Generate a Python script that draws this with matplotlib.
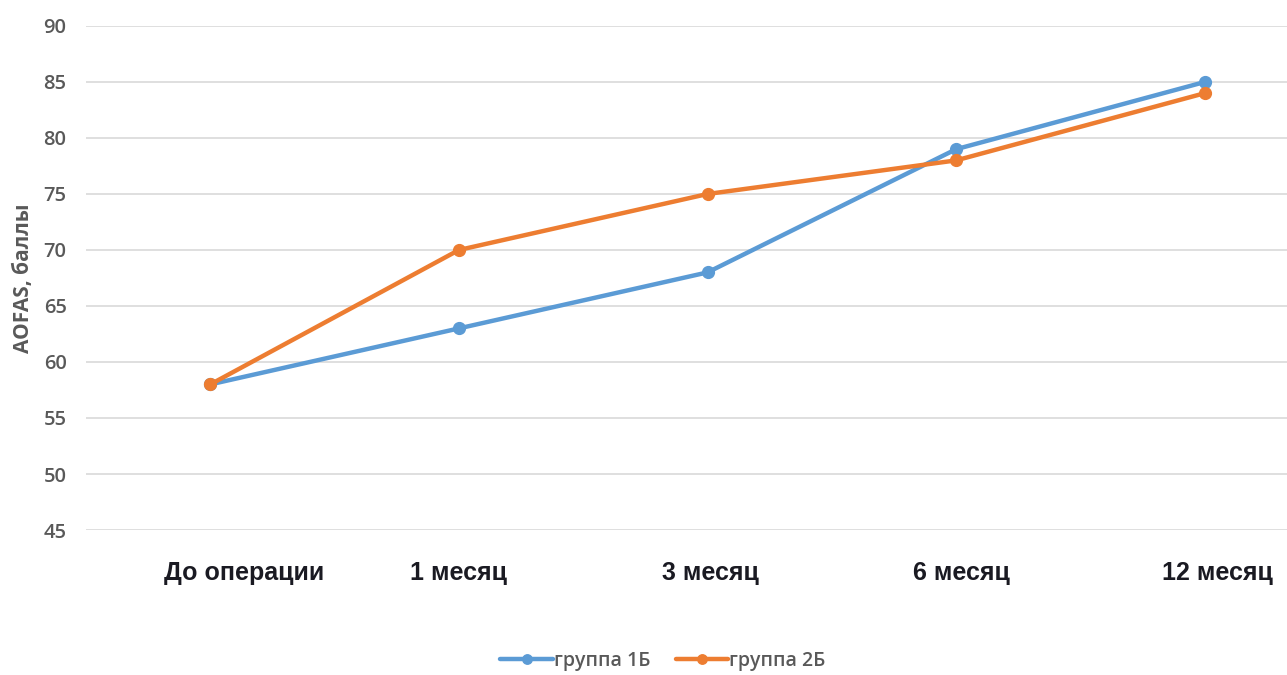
import matplotlib.pyplot as plt
from matplotlib.transforms import ScaledTranslation

# Category labels and AOFAS scores for the two groups
periods = ["До операции", "1 месяц", "3 месяц", "6 месяц", "12 месяц"]
group_1b = [58, 63, 68, 79, 85]
group_2b = [58, 70, 75, 78, 84]
y_ticks = [45, 50, 55, 60, 65, 70, 75, 80, 85, 90]

plt.rcParams["font.family"] = ["Open Sans", "DejaVu Sans"]

fig = plt.figure(figsize=(12.87, 6.75), dpi=100)
# the plot area runs a little past the right edge of the figure
ax = fig.add_axes([86 / 1287, 1 - 530 / 675, 1243 / 1287, 504 / 675])

x = range(len(periods))
ax.plot(x, group_1b, color="#5B9BD5", linewidth=3.2, marker="o", markersize=8.5,
        label="группа 1Б", solid_capstyle="round", zorder=3)
ax.plot(x, group_2b, color="#ED7D31", linewidth=3.2, marker="o", markersize=8.5,
        label="группа 2Б", solid_capstyle="round", zorder=3)

ax.set_xlim(-0.5, len(periods) - 0.5)
ax.set_ylim(45, 90)
ax.set_yticks(y_ticks)
ax.set_yticklabels([str(v) for v in y_ticks], fontsize=14.5, fontweight="semibold",
                   color="#595959")
ax.set_xticks(list(x))
ax.set_xticklabels(periods, fontsize=18, fontweight="bold", color="#1A1A22",
                   family=["Liberation Sans", "DejaVu Sans"])
ax.tick_params(axis="x", length=0, pad=22)
ax.tick_params(axis="y", length=0, pad=14)

# nudge category labels sideways (in points)
label_shift = [24, 0, 2, 4, 9]
for lbl, dx in zip(ax.get_xticklabels(), label_shift):
    lbl.set_transform(lbl.get_transform() + ScaledTranslation(dx / 72, 0, fig.dpi_scale_trans))

ax.grid(axis="y", color="#D9D9D9", linewidth=1.2)
ax.set_axisbelow(True)
for side in ax.spines.values():
    side.set_visible(False)

ax.set_ylabel("AOFAS, баллы", fontsize=15, fontweight="bold", color="#595959",
              labelpad=7)

fig.legend(loc="center", bbox_to_anchor=(0.515, 1 - 661 / 675), ncol=2,
           frameon=False, prop={"size": 14, "weight": "semibold"},
           labelcolor="#595959", handlelength=2.7, handletextpad=0.05,
           columnspacing=1.3, markerscale=0.8)

fig.savefig("out.png", dpi=100)
plt.close(fig)
